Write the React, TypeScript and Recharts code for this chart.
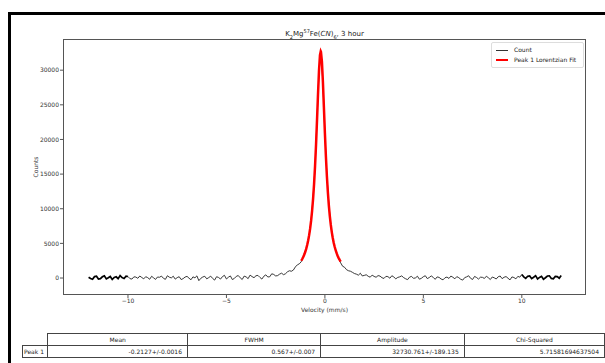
import { LineChart, Line, XAxis, YAxis } from 'recharts';

// velocity grid (mm/s) and measured counts
const velocity = [
  -12.0, -11.9, -11.8, -11.7, -11.6, -11.5, -11.4, -11.3, -11.2, -11.1,
  -11.0, -10.9, -10.8, -10.7, -10.6, -10.5, -10.4, -10.3, -10.2, -10.1,
  -10.0, -9.9, -9.8, -9.7, -9.6, -9.5, -9.4, -9.3, -9.2, -9.1,
  -9.0, -8.9, -8.8, -8.7, -8.6, -8.5, -8.4, -8.3, -8.2, -8.1,
  -8.0, -7.9, -7.8, -7.7, -7.6, -7.5, -7.4, -7.3, -7.2, -7.1,
  -7.0, -6.9, -6.8, -6.7, -6.6, -6.5, -6.4, -6.3, -6.2, -6.1,
  -6.0, -5.9, -5.8, -5.7, -5.6, -5.5, -5.4, -5.3, -5.2, -5.1,
  -5.0, -4.9, -4.8, -4.7, -4.6, -4.5, -4.4, -4.3, -4.2, -4.1,
  -4.0, -3.9, -3.8, -3.7, -3.6, -3.5, -3.4, -3.3, -3.2, -3.1,
  -3.0, -2.9, -2.8, -2.7, -2.6, -2.5, -2.4, -2.3, -2.2, -2.1,
  -2.0, -1.9, -1.8, -1.7, -1.6, -1.5, -1.4, -1.3, -1.2, -1.1,
  -1.0, -0.9, -0.8, -0.7, -0.6, -0.5, -0.4, -0.3, -0.2, -0.1,
  0.0, 0.1, 0.2, 0.3, 0.4, 0.5, 0.6, 0.7, 0.8, 0.9,
  1.0, 1.1, 1.2, 1.3, 1.4, 1.5, 1.6, 1.7, 1.8, 1.9,
  2.0, 2.1, 2.2, 2.3, 2.4, 2.5, 2.6, 2.7, 2.8, 2.9,
  3.0, 3.1, 3.2, 3.3, 3.4, 3.5, 3.6, 3.7, 3.8, 3.9,
  4.0, 4.1, 4.2, 4.3, 4.4, 4.5, 4.6, 4.7, 4.8, 4.9,
  5.0, 5.1, 5.2, 5.3, 5.4, 5.5, 5.6, 5.7, 5.8, 5.9,
  6.0, 6.1, 6.2, 6.3, 6.4, 6.5, 6.6, 6.7, 6.8, 6.9,
  7.0, 7.1, 7.2, 7.3, 7.4, 7.5, 7.6, 7.7, 7.8, 7.9,
  8.0, 8.1, 8.2, 8.3, 8.4, 8.5, 8.6, 8.7, 8.8, 8.9,
  9.0, 9.1, 9.2, 9.3, 9.4, 9.5, 9.6, 9.7, 9.8, 9.9,
  10.0, 10.1, 10.2, 10.3, 10.4, 10.5, 10.6, 10.7, 10.8, 10.9,
  11.0, 11.1, 11.2, 11.3, 11.4, 11.5, 11.6, 11.7, 11.8, 11.9,
  12.0,
];
const counts = [
  120, -60, -180, 200, 260, -150, -90, 180, 310, -120,
  40, 230, -210, 90, 180, -100, 350, 60, -60, 280,
  220, -90, -150, 170, 140, -40, 290, 80, -120, 190,
  60, -180, 250, 30, -200, 150, 110, 280, -40, -190,
  330, 120, 20, 260, -160, 60, 190, -220, -90, 140,
  240, -30, -250, 170, 30, 310, -380, -40, 150, 250,
  -120, 60, 270, -60, -300, 190, 80, -150, 210, 390,
  -140, 120, 300, -220, -60, 240, 360, 30, -210, 280,
  160, -90, 420, 210, 50, 330, 380, 90, -150, 260,
  460, 150, 180, 610, 520, 300, 350, 560, 700, 480,
  620, 900, 1050, 980, 1150, 1600, 1900, 2050, 2350, 3100,
  3900, 4700, 6050, 8300, 11600, 16000, 22900, 29800, 32600, 28100,
  20800, 14900, 10700, 7600, 5700, 4500, 3650, 2800, 2200, 1700,
  1550, 1200, 1050, 980, 820, 650, 560, 410, 690, 300,
  380, 470, 250, 120, 420, 230, 110, 350, 280, 40,
  -60, 240, 200, -30, 330, 150, -120, 90, 170, 310,
  60, -110, -230, 130, 240, -50, 20, 260, -170, -40,
  190, 330, -80, 70, 310, 100, -190, 160, 90, -140,
  -260, 40, 140, -60, 280, 110, -110, 200, 50, -180,
  -300, 60, 170, 330, -40, -210, 230, 80, -150, 120,
  100, -60, 260, 40, -220, 150, 30, -140, 180, 290,
  -90, 110, 210, -30, -270, 160, 70, -120, 240, 120,
  520, 180, -60, 250, 300, -90, 110, 340, -130, 90,
  250, -170, 40, 290, 320, -60, -100, 230, 200, -20,
  380,
];

// Lorentzian fit curve
const fitVelocity = [
  -1.2, -1.15, -1.1, -1.05, -1.0, -0.95, -0.9, -0.85, -0.8, -0.75,
  -0.7, -0.65, -0.6, -0.55, -0.5, -0.45, -0.4, -0.35, -0.3, -0.25,
  -0.21, -0.2, -0.15, -0.1, -0.05, 0.0, 0.05, 0.1, 0.15, 0.2,
  0.25, 0.3, 0.35, 0.4, 0.45, 0.5, 0.55, 0.6, 0.65, 0.7, 0.75, 0.8,
];
const fitCounts = [
  2493, 2743, 3032, 3366, 3757, 4216, 4759, 5407, 6186, 7128,
  8276, 9686, 11420, 13547, 16147, 19246, 22785, 26513, 29896, 32173,
  32729, 32665, 31204, 28264, 24620, 20942, 17610, 14766, 12413, 10493,
  8933, 7664, 6626, 5772, 5063, 4472, 3973, 3551, 3190, 2880, 2612, 2379,
];

const xTicks = [-10, -5, 0, 5, 10];
const yTicks = [0, 5000, 10000, 15000, 20000, 25000, 30000];

const tableHeaders = ['Mean', 'FWHM', 'Amplitude', 'Chi-Squared'];
const tableRowLabel = 'Peak 1';
const tableRow = ['-0.2127+/-0.0016', '0.567+/-0.007', '32730.761+/-189.135', '5.71581694637504'];
const colWidths = [138, 132, 141, 138];

const FONT = '"DejaVu Sans", sans-serif';
const countData = velocity.map((v, i) => ({ v, c: counts[i] }));
const fitData = fitVelocity.map((v, i) => ({ v, c: fitCounts[i] }));

const minus = (n: number) => String(n).replace('-', '\u2212');

function LegendBox() {
  return (
    <div style={{ position: 'absolute', left: 491, top: 42, width: 93, boxSizing: 'border-box', border: '1px solid #ddd', borderRadius: 2, background: '#fff', padding: '2px 4px', fontSize: 6, color: '#222', lineHeight: '10px' }}>
      <div style={{ display: 'flex', alignItems: 'center' }}>
        <span style={{ width: 12, height: 1, background: '#333', marginRight: 6 }} />
        Count
      </div>
      <div style={{ display: 'flex', alignItems: 'center' }}>
        <span style={{ width: 12, height: 2, background: '#ff0000', marginRight: 6 }} />
        Peak 1 Lorentzian Fit
      </div>
    </div>
  );
}

export default function App() {
  const tickStyle = { fontSize: 6, fill: '#333', fontFamily: FONT };
  return (
    <div style={{ position: 'absolute', left: 0, top: 0, width: 605, height: 363, background: '#fff', overflow: 'hidden', fontFamily: FONT }}>
      <div style={{ position: 'absolute', left: 8, top: 12, width: 640, height: 400, border: '3px solid #000', boxSizing: 'border-box' }} />
      <div style={{ position: 'absolute', left: 63, width: 523, top: 28, textAlign: 'center', fontSize: 7, color: '#222' }}>
        K<sub style={{ fontSize: 5 }}>2</sub>Mg<sup style={{ fontSize: 5 }}>57</sup>Fe(<i>CN</i>)<sub style={{ fontSize: 5 }}>6</sub>, 3 hour
      </div>
      <div style={{ position: 'absolute', left: 0, top: 0 }}>
        <LineChart width={605} height={363} data={countData} margin={{ top: 39, right: 19, bottom: 38, left: 8 }}>
          <XAxis
            dataKey="v"
            type="number"
            domain={[-13.3, 13.26]}
            ticks={xTicks}
            allowDataOverflow
            axisLine={false}
            tickSize={3}
            tickMargin={1}
            tickLine={{ stroke: '#555' }}
            tick={tickStyle}
            tickFormatter={minus}
            height={30}
          />
          <YAxis
            type="number"
            domain={[-2450, 34500]}
            ticks={yTicks}
            allowDataOverflow
            axisLine={false}
            tickSize={3}
            tickMargin={1}
            tickLine={{ stroke: '#555' }}
            tick={tickStyle}
            width={55}
          />
          <Line data={countData.filter(d => d.v <= -10)} dataKey="c" stroke="#000" strokeWidth={1.7} dot={false} isAnimationActive={false} />
          <Line data={countData.filter(d => d.v >= -10 && d.v <= 10)} dataKey="c" stroke="#222" strokeWidth={0.9} dot={false} isAnimationActive={false} />
          <Line data={countData.filter(d => d.v >= 10)} dataKey="c" stroke="#000" strokeWidth={1.7} dot={false} isAnimationActive={false} />
          <Line data={fitData} dataKey="c" stroke="#ff0000" strokeWidth={2.5} dot={false} isAnimationActive={false} />
        </LineChart>
      </div>
      <LegendBox />
      <div style={{ position: 'absolute', left: 63, top: 39, width: 523, height: 256, border: '1px solid #555', boxSizing: 'border-box', pointerEvents: 'none' }} />
      <div style={{ position: 'absolute', left: 35, top: 167, transform: 'translate(-50%, -50%) rotate(-90deg)', fontSize: 6, color: '#333', whiteSpace: 'nowrap' }}>Counts</div>
      <div style={{ position: 'absolute', left: 63, width: 523, top: 306, textAlign: 'center', fontSize: 6, color: '#333' }}>Velocity (mm/s)</div>
      <table style={{ position: 'absolute', left: 22, top: 333, borderCollapse: 'collapse', fontSize: 6, color: '#222', fontFamily: FONT }}>
        <tbody>
          <tr style={{ height: 12 }}>
            <td style={{ width: 26, padding: 0 }} />
            {tableHeaders.map((h, i) => (
              <td key={h} style={{ width: colWidths[i], border: '1px solid #444', textAlign: 'center', padding: 0 }}>{h}</td>
            ))}
          </tr>
          <tr style={{ height: 12 }}>
            <td style={{ border: '1px solid #444', padding: '0 1px' }}>{tableRowLabel}</td>
            {tableRow.map((v, i) => (
              <td key={i} style={{ width: colWidths[i], border: '1px solid #444', textAlign: 'right', padding: '0 5px' }}>{v}</td>
            ))}
          </tr>
        </tbody>
      </table>
    </div>
  );
}
